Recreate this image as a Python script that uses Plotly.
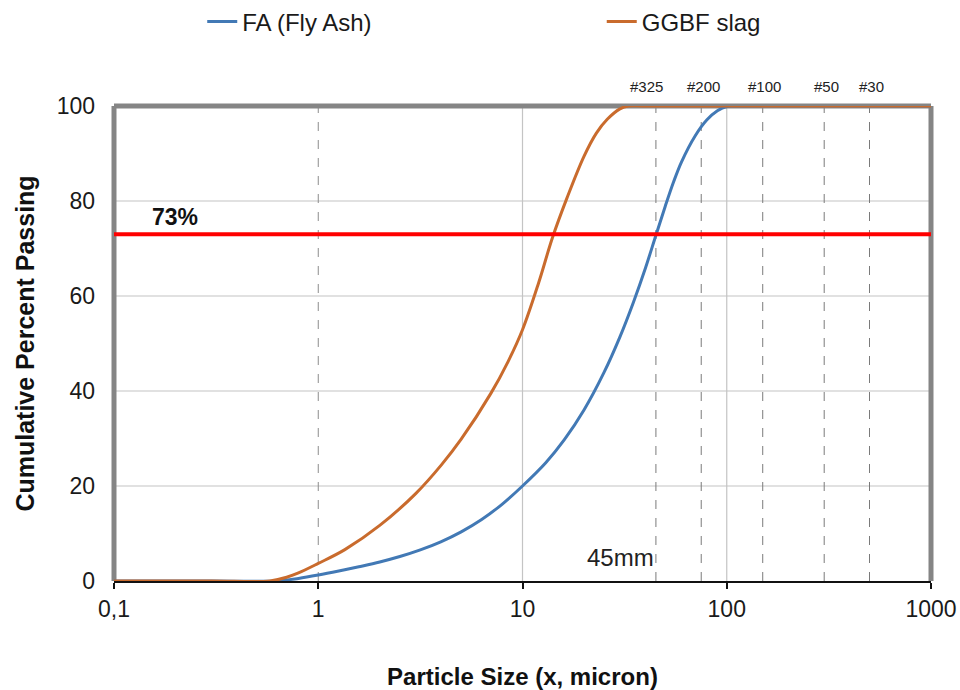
import math
import plotly.graph_objects as go

# Particle size distribution data (size in micron, cumulative % passing)
fa_size = [0.1, 0.3, 0.62, 0.8, 1.0, 1.26, 1.58, 2.0, 2.51, 3.16, 3.98, 5.01, 6.31, 7.94, 10.0,
           13.0, 16.0, 20.0, 25.0, 30.0, 35.0, 40.0, 45.0, 50.0, 55.0, 60.0, 70.0, 80.0, 90.0,
           100.0, 115.0, 1000.0]
fa_pass = [0, 0, 0, 0.55, 1.25, 2.1, 3.0, 4.0, 5.15, 6.55, 8.25, 10.35, 12.95, 16.15, 20.0,
           24.9, 29.7, 36.0, 43.8, 51.4, 58.8, 65.9, 72.8, 78.9, 84.1, 88.2, 93.7, 97.1, 99.0,
           99.9, 100, 100]

slag_size = [0.1, 0.3, 0.58, 0.7, 0.8, 1.0, 1.35, 2.0, 3.0, 4.0, 5.0, 7.0, 8.5, 10.0, 12.0,
             14.0, 16.5, 20.0, 23.0, 26.0, 30.0, 33.0, 40.0, 1000.0]
slag_pass = [0, 0, 0, 0.8, 1.7, 3.7, 6.6, 11.7, 18.4, 24.4, 29.8, 39.5, 46.2, 52.9, 62.8,
             72.2, 80.6, 89.4, 94.3, 97.2, 99.4, 100, 100, 100]

# Sieve openings marked on the chart
sieve_labels = ["#325", "#200", "#100", "#50", "#30"]
sieve_microns = [45, 75, 150, 300, 500]

target_pct = 73
target_label = "73%"
marker_size = 45
marker_label = "45mm"

x_tickvals = [0.1, 1, 10, 100, 1000]
x_ticktext = ["0,1", "1", "10", "100", "1000"]
y_tickvals = [0, 20, 40, 60, 80, 100]

FONT = "Liberation Sans, Arial, sans-serif"
BLUE = "#4279b5"
ORANGE = "#c96b2d"

fig = go.Figure()

# Reference lines: light grid, dashed x=1 line and sieve lines
shapes = []
for v in [20, 40, 60, 80]:
    shapes.append(dict(type="line", xref="paper", x0=0, x1=1, yref="y", y0=v, y1=v,
                       line=dict(color="#c4c4c4", width=1.2), layer="below"))
for v in [10, 100]:
    shapes.append(dict(type="line", xref="x", x0=v, x1=v, yref="paper", y0=0, y1=1,
                       line=dict(color="#c4c4c4", width=1.2), layer="below"))
shapes.append(dict(type="line", xref="x", x0=1, x1=1, yref="paper", y0=0, y1=1,
                   line=dict(color="#8c8c8c", width=1, dash="dash"), layer="below"))
for s in sieve_microns:
    shapes.append(dict(type="line", xref="x", x0=s, x1=s, yref="paper", y0=0, y1=1,
                       line=dict(color="#7a7a7a", width=1, dash="dash"), layer="below"))

# Plot frame (gray on left/top/right)
for x0, x1, y0, y1 in [(0, 0, 0, 1), (0, 1, 1, 1), (1, 1, 0, 1)]:
    shapes.append(dict(type="line", xref="paper", yref="paper", x0=x0, x1=x1, y0=y0, y1=y1,
                       line=dict(color="#858585", width=5), layer="below"))

fig.add_trace(go.Scatter(x=fa_size, y=fa_pass, mode="lines", name="FA (Fly Ash)",
                         line=dict(color=BLUE, width=3, shape="spline", smoothing=1.0),
                         cliponaxis=False, legend="legend"))
fig.add_trace(go.Scatter(x=slag_size, y=slag_pass, mode="lines", name="GGBF slag",
                         line=dict(color=ORANGE, width=3, shape="spline", smoothing=1.0),
                         cliponaxis=False, legend="legend2"))

# 73% passing line
fig.add_trace(go.Scatter(x=[x_tickvals[0], x_tickvals[-1]], y=[target_pct, target_pct],
                         mode="lines", line=dict(color="#ff0000", width=4),
                         showlegend=False, hoverinfo="skip"))

annotations = [
    dict(x=math.log10(0.15), y=target_pct + 3.7, xref="x", yref="y", text=target_label,
         showarrow=False, xanchor="left", yanchor="middle",
         font=dict(family=FONT, size=23, color="#111111", weight="bold")),
    dict(x=math.log10(marker_size), y=5, xref="x", yref="y", text=marker_label,
         showarrow=False, xanchor="right", yanchor="middle",
         font=dict(family=FONT, size=24, color="#222222")),
]
for lab, s in zip(sieve_labels, sieve_microns):
    annotations.append(dict(x=math.log10(s), y=1.042, xref="x", yref="paper", text=lab,
                            showarrow=False, xanchor="center", yanchor="middle",
                            xshift=-9 if lab == "#325" else 2,
                            font=dict(family=FONT, size=15, color="#222222")))

legend_style = dict(orientation="h", yanchor="middle", xanchor="left",
                    font=dict(family=FONT, size=24, color="#1a1a1a"),
                    bgcolor="rgba(0,0,0,0)")

fig.update_layout(
    width=960, height=690,
    margin=dict(l=114, r=29, t=106, b=109, autoexpand=False),
    paper_bgcolor="white", plot_bgcolor="white",
    font=dict(family=FONT, size=23, color="#1a1a1a"),
    shapes=shapes, annotations=annotations,
    showlegend=True,
    legend=dict(x=0.108, y=1.177, **legend_style),
    legend2=dict(x=0.597, y=1.177, **legend_style),
    xaxis=dict(type="log", range=[-1, 3], tickvals=x_tickvals, ticktext=x_ticktext,
               showgrid=False, zeroline=False, showline=True, linecolor="#111111",
               linewidth=2, ticks="outside", ticklen=6, tickwidth=2, tickcolor="#111111",
               tickfont=dict(family=FONT, size=23, color="#1a1a1a"),
               title=dict(text="<b>Particle Size (x, micron)</b>", standoff=48,
                          font=dict(family=FONT, size=24, color="#111111"))),
    yaxis=dict(range=[0, 100], tickvals=y_tickvals, showgrid=False, zeroline=False,
               showline=False, ticks="", ticklabelstandoff=18,
               tickfont=dict(family=FONT, size=23, color="#1a1a1a"),
               title=dict(text="<b>Cumulative Percent Passing</b>", standoff=14,
                          font=dict(family=FONT, size=25, color="#111111"))),
)

fig.write_html("out.html")
